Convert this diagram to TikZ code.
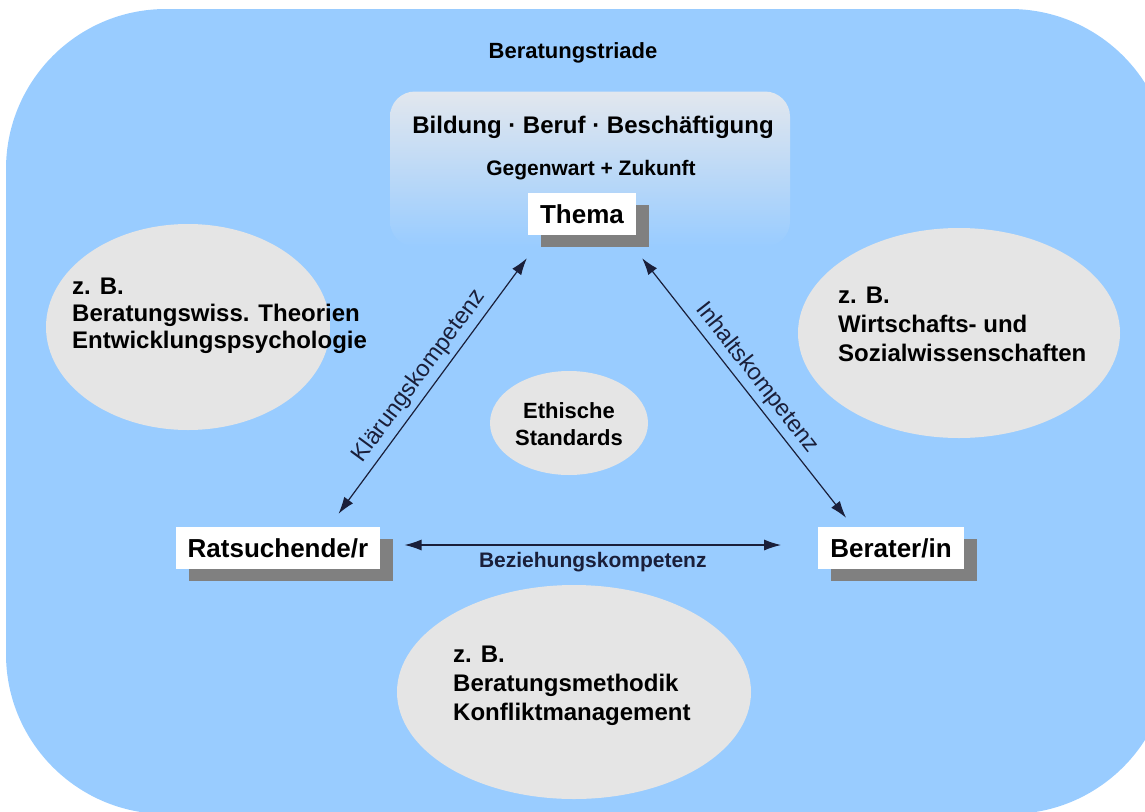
\documentclass[tikz,border=0pt]{standalone}
\usepackage{fontspec}
\setmainfont{Liberation Sans}
\usetikzlibrary{arrows.meta,shapes.geometric,shadows}
\definecolor{himmel}{RGB}{153,204,255}
\definecolor{wolkengrau}{RGB}{229,229,229}
\definecolor{schatten}{RGB}{128,128,128}
\definecolor{tinte}{RGB}{26,31,58}
\definecolor{nebel}{RGB}{226,231,238}
\tikzset{
    kasten/.style={fill=white, minimum height=42pt, inner xsep=12pt,
        font=\fontsize{26}{28}\selectfont\bfseries,
        drop shadow={shadow xshift=13pt, shadow yshift=-12pt, fill=schatten, opacity=1}},
    feld/.style={rounded corners=25pt, top color=nebel, bottom color=himmel,
        minimum width=400pt, minimum height=155pt},
    wolke/.style={ellipse, fill=wolkengrau, inner sep=0pt},
    zb/.style={font=\fontsize{24}{29}\selectfont\bfseries, align=left, inner sep=0pt, anchor=base west},
    pfeil/.style={{Latex[length=17pt,width=11pt]}-{Latex[length=17pt,width=11pt]}, draw=tinte, line width=1.2pt},
    kompetenz/.style={font=\fontsize{23.5}{25}\selectfont, text=tinte, inner sep=2pt}
}
\begin{document}
\begin{tikzpicture}[x=1pt,y=-1pt]
    \useasboundingbox (0,0) rectangle (1145,811);
    \fill[himmel, rounded corners=160pt] (6,9) rectangle (1170,814);
    \node[font=\fontsize{22}{24}\selectfont\bfseries, anchor=base] (triade) at (573,58) {Beratungstriade};

    \node[feld] (feld) at (590,169) {};
    \node[font=\fontsize{24}{26}\selectfont\bfseries, anchor=base] (bildung) at (593,133) {Bildung · Beruf · Beschäftigung};
    \node[font=\fontsize{21}{23}\selectfont\bfseries, anchor=base] (zeit) at (591,175) {Gegenwart + Zukunft};

    \node[wolke, minimum width=284pt, minimum height=206pt] (links) at (188,327) {};
    \node[wolke, minimum width=322pt, minimum height=210pt] (rechts) at (959,333) {};
    \node[wolke, minimum width=158pt, minimum height=104pt] (mitte) at (569,423) {};
    \node[wolke, minimum width=354pt, minimum height=214pt] (unten) at (574,692) {};

    \node[zb, font=\fontsize{24}{27}\selectfont\bfseries] (linkstext) at (72,348) {z. B.\\Beratungswiss. Theorien\\Entwicklungspsychologie};
    \node[zb] (rechtstext) at (838,361) {z. B.\\Wirtschafts- und\\Sozialwissenschaften};
    \node[zb] (untentext) at (453,720) {z. B.\\Beratungsmethodik\\Konfliktmanagement};
    \node[font=\fontsize{22}{27}\selectfont\bfseries, align=center, anchor=base] (ethik) at (569,445) {Ethische\\Standards};

    \node[kasten] (thema) at (582,214) {Thema};
    \node[kasten] (rat) at (278,548) {Ratsuchende/r};
    \node[kasten] (berater) at (891,548) {Berater/in};

    \draw[pfeil] ([shift={(-42,-13)}]rat.north east) -- node[kompetenz, sloped, above=3pt] (klaerung) {Klärungskompetenz} ([shift={(-1,23)}]thema.south west);
    \draw[pfeil] ([shift={(6,23)}]thema.south east) -- node[kompetenz, sloped, above=3pt] (inhalt) {Inhaltskompetenz} ([shift={(28,-9)}]berater.north west);
    \draw[pfeil] ([xshift=24pt,yshift=3pt]rat.east) -- node[kompetenz, below=5pt, font=\fontsize{21}{23}\selectfont\bfseries] (beziehung) {Beziehungskompetenz} ([xshift=-37pt,yshift=3pt]berater.west);
\end{tikzpicture}
\end{document}
